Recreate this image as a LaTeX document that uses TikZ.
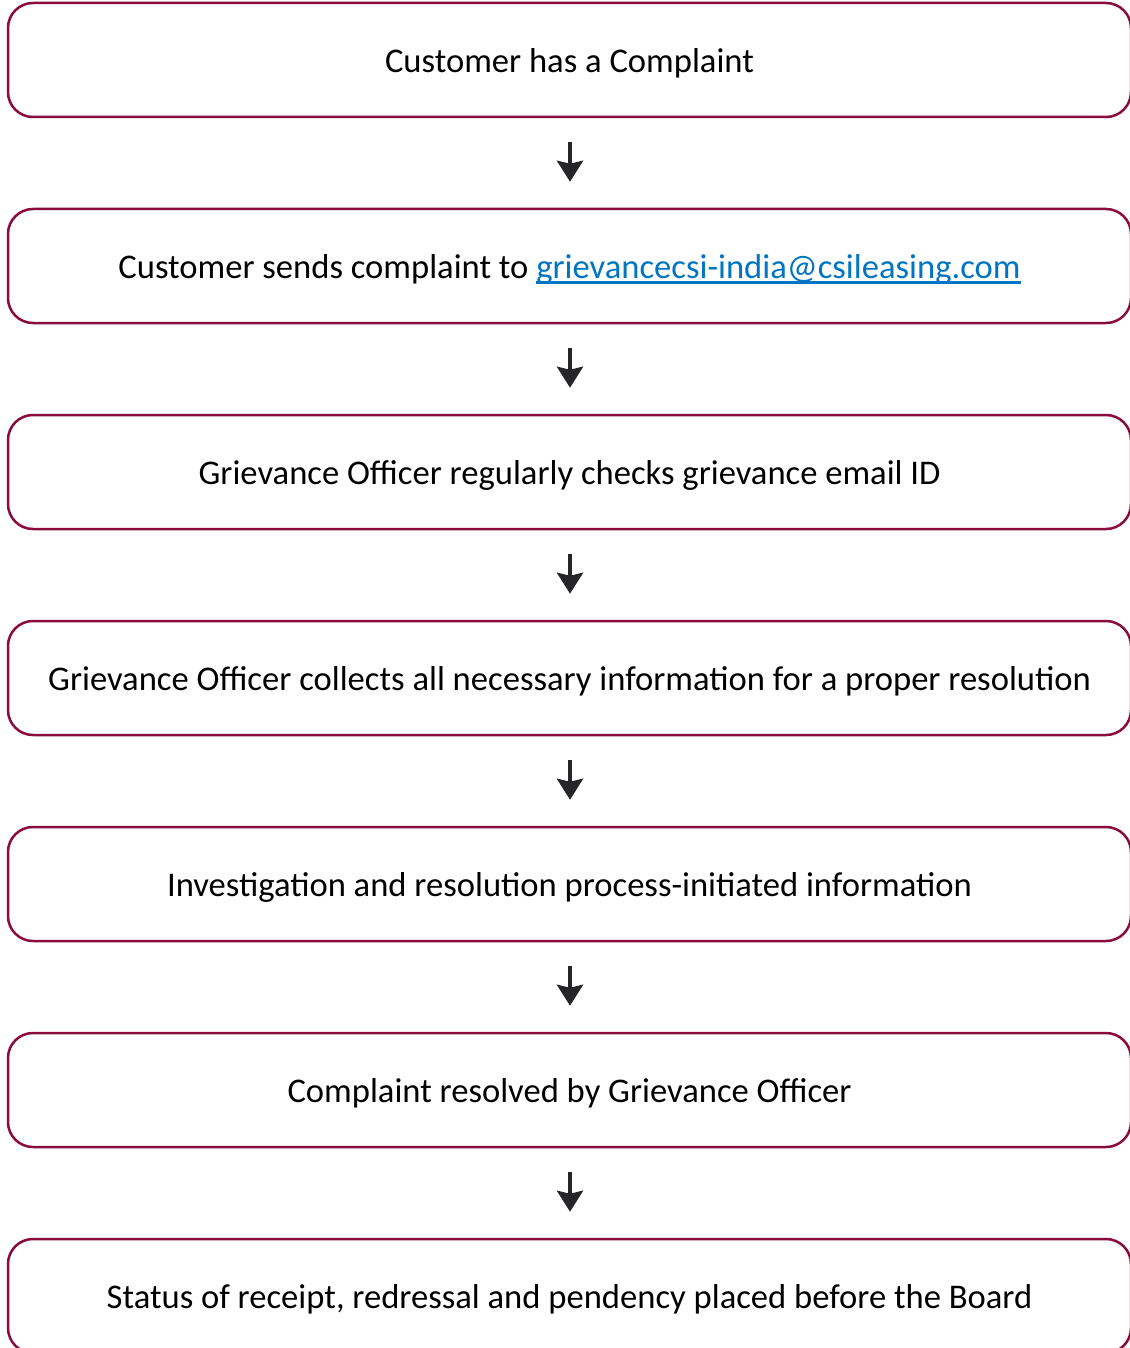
\documentclass[tikz,border=0pt]{standalone}
\usepackage{fontspec}
\setmainfont{Carlito}
\usetikzlibrary{arrows.meta}

\definecolor{boxline}{RGB}{138,12,62}
\definecolor{arrowgray}{RGB}{38,38,40}
\definecolor{linkblue}{RGB}{0,117,196}

\newcommand\mailul[1]{\setbox0\hbox{#1}\rlap{\rule[-5pt]{\wd0}{2.6pt}}\box0}

\begin{document}
\begin{tikzpicture}[x=1pt,y=1pt]
      \useasboundingbox (0,0) rectangle (1129,-1348);

      \begin{scope}[every node/.style={draw=boxline,line width=2.5pt,rounded corners=25pt,
          minimum width=1123pt,minimum height=114pt,inner sep=0pt,
          text height=27pt,text depth=2pt,
          font=\fontsize{34.6}{41}\selectfont}]
        \node (complaint) at (569.5,-60)   {Customer has a Complaint};
        \node (sends)     at (569.5,-266)  {Customer sends complaint to \textcolor{linkblue}{\mailul{grievancecsi-india@csileasing.com}}};
        \node (checks)    at (569.5,-472)  {Grievance Officer regularly checks grievance email ID};
        \node (collects)  at (569.5,-678)  {Grievance Officer collects all necessary information for a proper resolution};
        \node (process)   at (569.5,-884)  {Investigation and resolution process-initiated information};
        \node (resolved)  at (569.5,-1090) {Complaint resolved by Grievance Officer};
        \node (board)     at (569.5,-1296) {Status of receipt, redressal and pendency placed before the Board};
      \end{scope}

      \begin{scope}[every edge/.style={draw=arrowgray,line width=4pt,
          -{Stealth[length=21pt,width=26pt,inset=3pt]},shorten <=24pt,shorten >=26pt}]
        \path ([xshift=0.5pt]complaint.south) edge ([xshift=0.5pt]sends.north);
        \path ([xshift=0.5pt]sends.south)     edge ([xshift=0.5pt]checks.north);
        \path ([xshift=0.5pt]checks.south)    edge ([xshift=0.5pt]collects.north);
        \path ([xshift=0.5pt]collects.south)  edge ([xshift=0.5pt]process.north);
        \path ([xshift=0.5pt]process.south)   edge ([xshift=0.5pt]resolved.north);
        \path ([xshift=0.5pt]resolved.south)  edge ([xshift=0.5pt]board.north);
      \end{scope}

    \end{tikzpicture}
\end{document}
